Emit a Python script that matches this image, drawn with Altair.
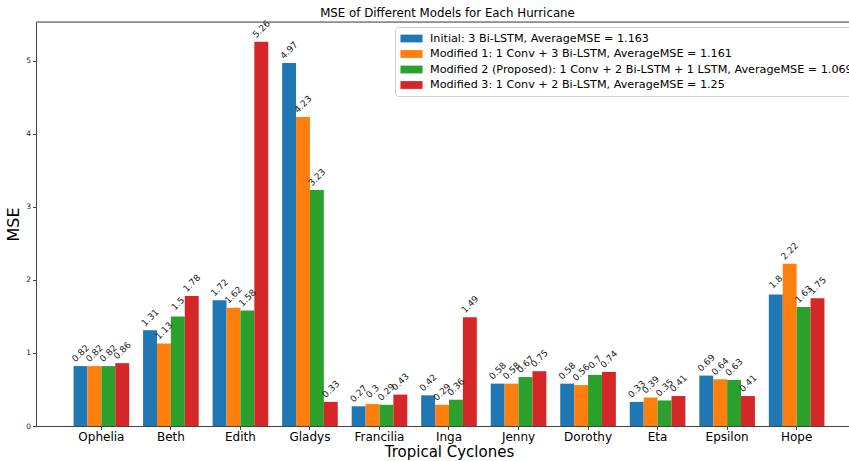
import altair as alt
import pandas as pd

# Tropical cyclones on the x axis
cyclones = ["Ophelia", "Beth", "Edith", "Gladys", "Francilia", "Inga",
            "Jenny", "Dorothy", "Eta", "Epsilon", "Hope"]

# Model variants (legend entries)
models = [
    "Initial: 3 Bi-LSTM, AverageMSE = 1.163",
    "Modified 1: 1 Conv + 3 Bi-LSTM, AverageMSE = 1.161",
    "Modified 2 (Proposed): 1 Conv + 2 Bi-LSTM + 1 LSTM, AverageMSE = 1.069",
    "Modified 3: 1 Conv + 2 Bi-LSTM, AverageMSE = 1.25",
]

# MSE per cyclone for each model
mse_initial   = [0.82, 1.31, 1.72, 4.97, 0.27, 0.42, 0.58, 0.58, 0.33, 0.69, 1.80]
mse_modified1 = [0.82, 1.13, 1.62, 4.23, 0.30, 0.29, 0.58, 0.56, 0.39, 0.64, 2.22]
mse_modified2 = [0.82, 1.50, 1.58, 3.23, 0.29, 0.36, 0.67, 0.70, 0.35, 0.63, 1.63]
mse_modified3 = [0.86, 1.78, 5.26, 0.33, 0.43, 1.49, 0.75, 0.74, 0.41, 0.41, 1.75]

colors = ["#1f77b4", "#ff7f0e", "#2ca02c", "#d62728"]
FONT = "DejaVu Sans"

series = [mse_initial, mse_modified1, mse_modified2, mse_modified3]
rows = []
for model, values in zip(models, series):
    for cyclone, v in zip(cyclones, values):
        rows.append({"cyclone": cyclone, "model": model, "mse": v, "label": f"{v:g}"})
df = pd.DataFrame(rows)

x_enc = alt.X(
    "cyclone:N", sort=cyclones,
    scale=alt.Scale(paddingInner=0.2, paddingOuter=0.54, range=[0, 826]),
    axis=alt.Axis(title="Tropical Cyclones", labelAngle=0, labelFontSize=12,
                  titleFontSize=15, titleFontWeight="normal", labelColor="#000",
                  titleColor="#000", tickSize=3.5, labelPadding=2, titlePadding=2,
                  domainColor="#444", tickColor="#444"),
)
xoff_enc = alt.XOffset("model:N", sort=models,
                       scale=alt.Scale(paddingInner=0, paddingOuter=0))
y_enc = alt.Y(
    "mse:Q",
    scale=alt.Scale(domain=[0, 5.53], nice=False),
    axis=alt.Axis(title="MSE", values=[0, 1, 2, 3, 4, 5], labelFontSize=7.5,
                  titleFontSize=16, titleFontWeight="normal", labelColor="#222",
                  titleColor="#000", tickSize=3.5, labelPadding=2, titlePadding=4,
                  grid=False, domainColor="#444", tickColor="#444"),
)

bars = alt.Chart(df).mark_bar().encode(
    x=x_enc,
    xOffset=xoff_enc,
    y=y_enc,
    color=alt.Color(
        "model:N", sort=models,
        scale=alt.Scale(domain=models, range=colors),
        legend=alt.Legend(
            title=None, orient="none", legendX=359, legendY=5,
            symbolType="M-1.7,-0.6H1.7V0.6H-1.7Z", symbolSize=169,
            symbolStrokeWidth=0, symbolOpacity=1, symbolOffset=5,
            labelFontSize=11.2, labelFont=FONT, labelColor="#000", labelLimit=600,
            rowPadding=3.5, labelOffset=12, padding=5,
            strokeColor="#d0d0d0", fillColor="#ffffff", cornerRadius=3,
        ),
    ),
)

labels = alt.Chart(df).mark_text(
    angle=315, align="center", baseline="middle", dx=9, dy=-9,
    fontSize=9, font=FONT, color="#222",
).encode(
    x=x_enc,
    xOffset=xoff_enc,
    y=y_enc,
    text="label:N",
)

# top frame line of the plot box
top_spine = alt.Chart(pd.DataFrame({"k": [0]})).mark_rule(
    color="#444", strokeWidth=1
).encode(x=alt.value(0), x2=alt.value(826), y=alt.value(0))

chart = alt.layer(bars, labels, top_spine).properties(
    width=813, height=404,
    title=alt.TitleParams("MSE of Different Models for Each Hurricane",
                          fontSize=11.8, fontWeight="normal", font=FONT,
                          color="#000", anchor="middle", dx=5, offset=-1),
    autosize=alt.AutoSizeParams(type="none"),
    padding={"left": 36, "top": 22, "right": 0, "bottom": 35},
).configure_view(stroke=None).configure(font=FONT)

chart.save("out.html", embed_options={"renderer": "svg", "actions": False})
